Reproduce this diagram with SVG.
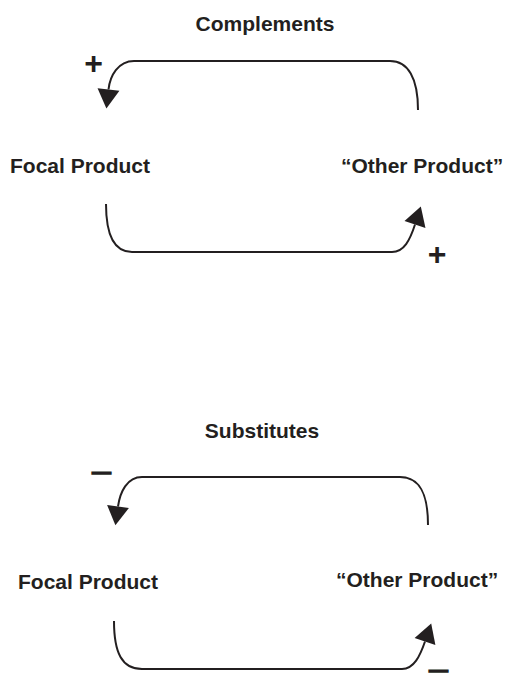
<svg xmlns="http://www.w3.org/2000/svg" width="509" height="679" viewBox="0 0 509 679">
<style>
text{font-family:"Liberation Sans",Arial,sans-serif;font-weight:bold;fill:#231f20}
.lbl{font-size:21px}
.sign{font-size:32px}
.minus{font-size:16px;stroke:#231f20;stroke-width:1.6}
.conn{fill:none;stroke:#231f20;stroke-width:2;marker-end:url(#ah)}
</style>
<defs>
<marker id="ah" markerUnits="userSpaceOnUse" markerWidth="20" markerHeight="22" viewBox="0 0 20 22" refX="0" refY="11" orient="auto" overflow="visible">
<path d="M0,0 L19,11 L0,22 z" fill="#231f20"/>
</marker>
</defs>
<g id="title-complements"><text class="lbl" x="265" y="31" text-anchor="middle">Complements</text></g>
<g id="focal-1"><text class="lbl" x="10" y="173">Focal Product</text></g>
<g id="other-1"><text class="lbl" x="341" y="173">“Other Product”</text></g>
<g id="title-substitutes"><text class="lbl" x="262" y="438" text-anchor="middle">Substitutes</text></g>
<g id="focal-2"><text class="lbl" x="18" y="589">Focal Product</text></g>
<g id="other-2"><text class="lbl" x="336" y="587">“Other Product”</text></g>
<g id="connectors">
<path class="conn" d="M418,110 C418,78 408,61 390,61 L134,61 C118,61 110,76 108.5,89.5"/>
<path class="conn" d="M106,204 C106,236 115,252 132,252 L392,252 C404,252 410,240 415,224.5"/>
<path class="conn" d="M428,525 C428,494 420,477 400,477 L142,477 C127,477 120,492 118,506.5"/>
<path class="conn" d="M114,621 C114,653 122,669 142,669 L402,669 C414,669 420,656 425,641.5"/>
</g>
<g id="signs">
<text class="sign" x="93.5" y="74" text-anchor="middle">+</text>
<text class="sign" x="437" y="265" text-anchor="middle">+</text>
<text class="minus" x="92" y="478" textLength="19" lengthAdjust="spacingAndGlyphs">–</text>
<text class="minus" x="429" y="675.5" textLength="19" lengthAdjust="spacingAndGlyphs">–</text>
</g>
</svg>
